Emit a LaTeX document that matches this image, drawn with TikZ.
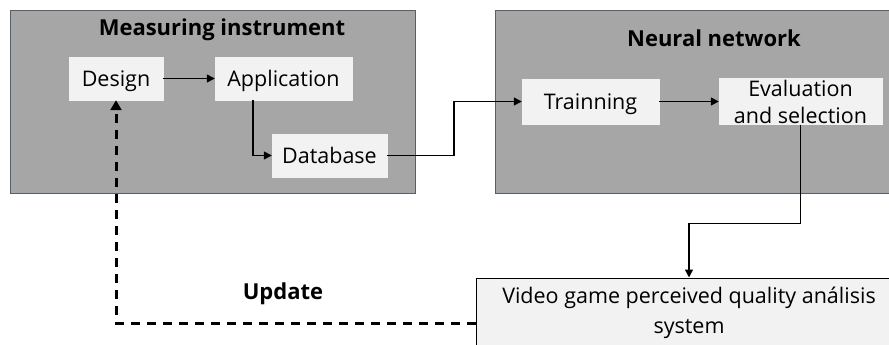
\documentclass[tikz,border=0pt]{standalone}
\usepackage{fontspec}
\setmainfont{Open Sans}
\usetikzlibrary{arrows.meta}
\definecolor{grp}{HTML}{A6A6A6}
\definecolor{grpline}{HTML}{55606B}
\definecolor{boxfill}{HTML}{F2F2F2}

\begin{document}
\begin{tikzpicture}[x=1pt,y=-1pt,
	group/.style={fill=grp, draw=grpline, line width=0.8pt, inner sep=0pt},
	stepbox/.style={fill=boxfill, draw=boxfill, inner sep=0pt,
		font=\fontsize{21.5}{27}\selectfont},
	oneline/.style={text height=15.5pt, text depth=0pt},
	heading/.style={font=\fontsize{22}{26}\selectfont\bfseries},
	arr/.style={draw=black, line width=1.5pt, -{Triangle[length=8pt,width=8pt]}},
	dasharr/.style={draw=black, line width=3pt, dash pattern=on 9pt off 7pt,
		-{Triangle[length=10pt,width=11pt]}}]
	\useasboundingbox (0,0) rectangle (889,345);
	\clip (0,0) rectangle (889,345);

	% groups
	\node [group, minimum width=405pt, minimum height=183pt] (instr) at (212.5, 101.5) {};
	\node [group, minimum width=438pt, minimum height=183pt] (nn) at (714, 101.5) {};
	\node [heading] (instrtitle) at (222, 30) {Measuring instrument};
	\node [heading] (nntitle) at (714, 38) {Neural network};

	% steps
	\node [stepbox, oneline, minimum width=94pt, minimum height=43pt] (design) at (116, 78.5) {Design};
	\node [stepbox, oneline, minimum width=137pt, minimum height=43pt] (application) at (283.5, 78.5) {Application};
	\node [stepbox, oneline, minimum width=115pt, minimum height=43pt] (database) at (329.5, 155.5) {Database};
	\node [stepbox, oneline, minimum width=137pt, minimum height=45pt] (training) at (590.5, 101.5) {Trainning};
	\node [stepbox, align=center, minimum width=163pt, minimum height=46pt] (evaluation) at (800.5, 101.5) {Evaluation\\and selection};

	\node [stepbox, align=center, draw=black, line width=1pt, minimum width=426pt, minimum height=70pt,
		font=\fontsize{21.5}{30}\selectfont] (system) at (689, 313) {Video game perceived quality análisis\\system};
	\node [heading] (update) at (283, 294) {Update};

	% connectors
	\draw [arr] (design) to (application);
	\draw [arr] ([xshift=-30.5pt]application.south) |- (database.west);
	\draw [arr] (database.east) -- ++(67, 0) |- (training.west);
	\draw [arr] (training) to (evaluation);
	\draw [arr] (evaluation.south) -- ++(0, 99) -| (system.north);
	\draw [dasharr] ([yshift=-10pt]system.west) -| (design.south);
\end{tikzpicture}
\end{document}
